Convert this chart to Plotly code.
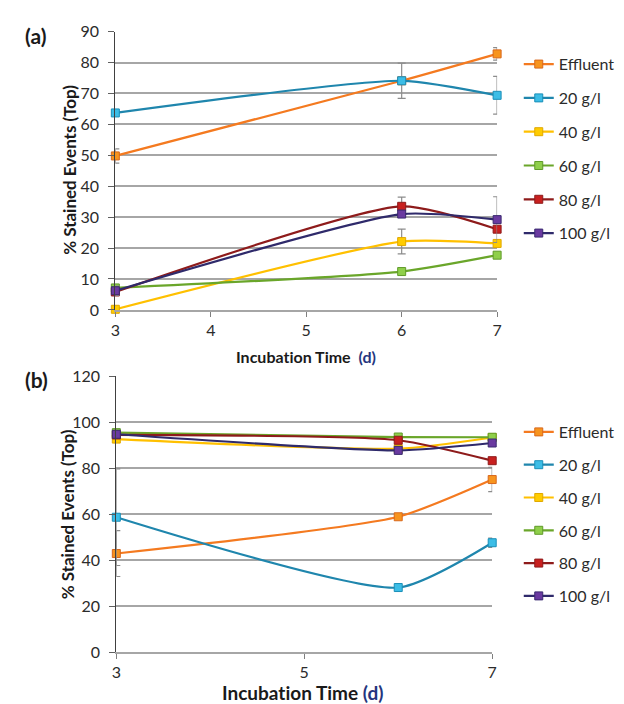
import plotly.graph_objects as go

# ---------------- data ----------------
days = [3, 6, 7]
series_names = ["Effluent", "20 g/l", "40 g/l", "60 g/l", "80 g/l", "100 g/l"]

# panel (a)
a_effluent = [49.8, 74.1, 82.8]
a_20 = [63.7, 74.1, 69.4]
a_40 = [0.2, 22.1, 21.5]
a_60 = [7.1, 12.4, 17.7]
a_80 = [5.8, 33.5, 26.1]
a_100 = [6.2, 31.0, 29.2]
a_err_effluent = [2.3, 0, 2.0]
a_err_20 = [0, 5.7, 6.1]
a_err_40 = [0, 4.0, 0]
a_err_60 = [1.0, 0, 0]
a_err_80 = [0, 3.0, 0]
a_err_100 = [1.5, 0, 7.4]

# panel (b)
b_effluent = [42.9, 58.9, 75.1]
b_20 = [58.7, 28.1, 47.6]
b_40 = [92.7, 88.5, 93.4]
b_60 = [95.5, 93.6, 93.5]
b_80 = [94.5, 92.2, 83.3]
b_100 = [94.8, 87.8, 91.0]
b_err_effluent = [10.0, 0, 5.3]
b_err_20 = [21.0, 0, 2.0]
b_err_40 = [0, 0, 0]
b_err_60 = [0, 0, 0]
b_err_80 = [0, 0, 0]
b_err_100 = [0, 1.5, 0]

a_ticks_x = [3, 4, 5, 6, 7]
b_ticks_x = [3, 5, 7]

# ---------------- style ----------------
line_colors = ["#f47a20", "#1f86ad", "#ffc000", "#6aa62a", "#8e1b1b", "#2f2a6b"]
marker_colors = ["#f7941e", "#3cbde6", "#ffcc00", "#8fcf4a", "#c8201f", "#6a3aa0"]
marker_lines = ["#d8681c", "#1a8fb8", "#e0a800", "#5f9a28", "#8e1b1b", "#3a2a70"]

FONT = "Lato, 'Open Sans', sans-serif"
TXT = "#2b2b2b"
GRID = "#a6a6a6"
W, H = 624, 704

a_vals = [a_effluent, a_20, a_40, a_60, a_80, a_100]
a_errs = [a_err_effluent, a_err_20, a_err_40, a_err_60, a_err_80, a_err_100]
b_vals = [b_effluent, b_20, b_40, b_60, b_80, b_100]
b_errs = [b_err_effluent, b_err_20, b_err_40, b_err_60, b_err_80, b_err_100]

fig = go.Figure()

def add_panel(vals, errs, xa, ya, legend):
    for i, name in enumerate(series_names):
        fig.add_trace(go.Scatter(
            x=days, y=vals[i], name=name, mode="lines+markers",
            xaxis=xa, yaxis=ya, legend=legend, legendgroup=legend + name,
            line=dict(color=line_colors[i], width=2.2, shape="spline", smoothing=0.6),
            marker=dict(symbol="square", size=8, color=marker_colors[i],
                        line=dict(color=marker_lines[i], width=1)),
            error_y=dict(type="data", array=errs[i], visible=True,
                         color="#8c8c8c", thickness=1.2, width=4),
            cliponaxis=False,
        ))

add_panel(a_vals, a_errs, "x", "y", "legend")
add_panel(b_vals, b_errs, "x2", "y2", "legend2")

def px_x(p):
    return p / W

def px_y(p):
    return 1 - p / H

xcommon = dict(showgrid=False, zeroline=False, ticks="outside", ticklen=5,
               tickcolor="#7f7f7f", showline=True, linecolor=GRID, linewidth=1.5,
               tickfont=dict(family=FONT, size=16, color=TXT))
ycommon = dict(showgrid=True, gridcolor=GRID, gridwidth=1.5, zeroline=False,
               ticks="outside", ticklen=6, tickcolor="#606060",
               showline=True, linecolor="#404040", linewidth=1.2,
               ticklabelstandoff=6,
               tickfont=dict(family=FONT, size=16, color=TXT))

fig.update_layout(
    width=W, height=H, margin=dict(l=0, r=0, t=0, b=0),
    paper_bgcolor="white", plot_bgcolor="white", showlegend=True,
    xaxis=dict(domain=[px_x(104), px_x(492)], range=[3, 7], tickvals=a_ticks_x,
               anchor="y", **xcommon),
    yaxis=dict(domain=[px_y(300), px_y(14)], range=[0, 90], dtick=10,
               anchor="x", **ycommon),
    xaxis2=dict(domain=[px_x(105), px_x(487)], range=[3, 7], tickvals=b_ticks_x,
                anchor="y2", **xcommon),
    yaxis2=dict(domain=[px_y(651.7), px_y(368.3)], range=[0, 120], dtick=20,
                anchor="x2", **ycommon),
    legend=dict(x=px_x(514), y=px_y(30), xanchor="left", yanchor="top",
                font=dict(family=FONT, size=16, color=TXT), tracegroupgap=10,
                itemwidth=30, bgcolor="rgba(0,0,0,0)"),
    legend2=dict(x=px_x(514), y=px_y(408), xanchor="left", yanchor="top",
                 font=dict(family=FONT, size=16, color=TXT), tracegroupgap=9,
                 itemwidth=30, bgcolor="rgba(0,0,0,0)"),
)

D = "<span style='color:#25357e'>(d)</span>"
TITLE = "Incubat\u200cion Time"
ann = [
    dict(text="<b>(a)</b>", x=px_x(10), y=px_y(18), size=21, xa="left"),
    dict(text="<b>(b)</b>", x=px_x(10), y=px_y(372), size=21, xa="left"),
    dict(text="<b>" + TITLE + "  " + D + "</b>", x=px_x(298), y=px_y(348), size=16, xa="center"),
    dict(text="<b>" + TITLE + " " + D + "</b>", x=px_x(294), y=px_y(693), size=19, xa="center"),
]
for a in ann:
    fig.add_annotation(text=a["text"], x=a["x"], y=a["y"], xref="paper", yref="paper",
                       xanchor=a["xa"], yanchor="middle", showarrow=False,
                       font=dict(family=FONT, size=a["size"], color="#1a1a1a"))
fig.add_annotation(text="<b>% Stained Events (Top)</b>", x=px_x(58), y=px_y(156),
                   xref="paper", yref="paper", textangle=-90, showarrow=False,
                   xanchor="center", yanchor="middle",
                   font=dict(family=FONT, size=17, color="#1a1a1a"))
fig.add_annotation(text="<b>% Stained Events (Top)</b>", x=px_x(55), y=px_y(510),
                   xref="paper", yref="paper", textangle=-90, showarrow=False,
                   xanchor="center", yanchor="middle",
                   font=dict(family=FONT, size=17, color="#1a1a1a"))

fig.write_html("out.html")
